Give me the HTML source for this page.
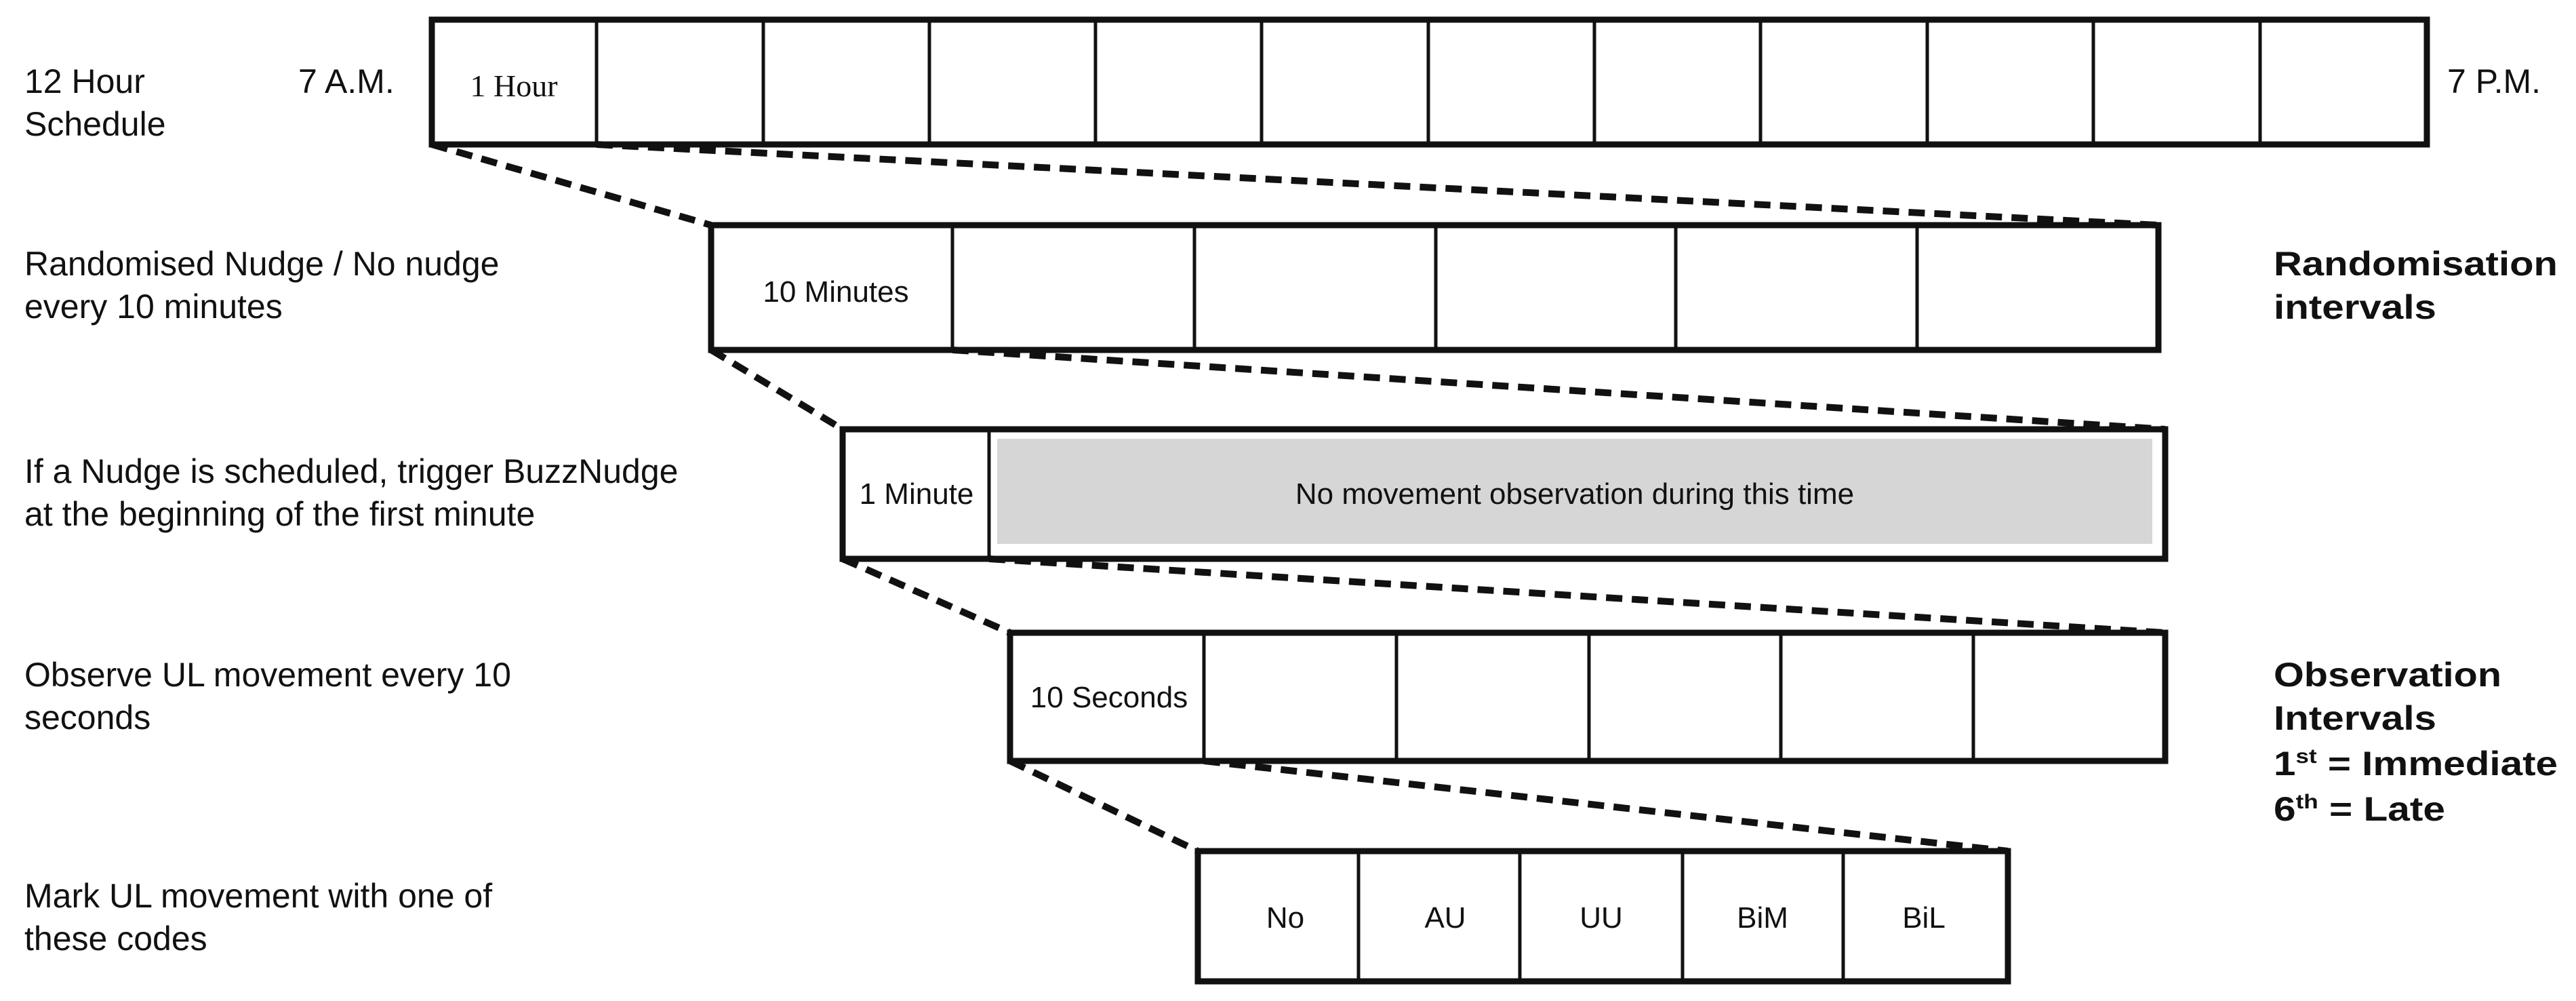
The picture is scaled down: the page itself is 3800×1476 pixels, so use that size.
<!DOCTYPE html>
<html><head><meta charset="utf-8"><style>
html,body{margin:0;padding:0;background:#fff;}
svg{display:block;}
text{font-family:"Liberation Sans",Arial,sans-serif;fill:#111;}
.b{font-weight:bold;}
</style></head><body>
<svg width="3800" height="1476" viewBox="0 0 3800 1476" xmlns="http://www.w3.org/2000/svg">
<g stroke="#111" stroke-width="10" stroke-dasharray="24 14" fill="none">
<line x1="637" y1="213" x2="1049" y2="332"/>
<line x1="880" y1="213" x2="3184" y2="332"/>
<line x1="1049" y1="516" x2="1243" y2="633"/>
<line x1="1405" y1="516" x2="3194" y2="633"/>
<line x1="1243" y1="824" x2="1490" y2="933"/>
<line x1="1459" y1="824" x2="3194" y2="933"/>
<line x1="1490" y1="1122" x2="1767" y2="1255"/>
<line x1="1776" y1="1122" x2="2962" y2="1255"/>
</g>
<rect x="1471" y="647" width="1704" height="155" fill="#d6d6d6"/>
<g stroke="#111" fill="none">
<rect x="637" y="29" width="2943" height="184" stroke-width="9"/>
<g stroke-width="5">
<line x1="880" y1="29" x2="880" y2="213"/><line x1="1126" y1="29" x2="1126" y2="213"/><line x1="1371" y1="29" x2="1371" y2="213"/><line x1="1616" y1="29" x2="1616" y2="213"/><line x1="1861" y1="29" x2="1861" y2="213"/><line x1="2107" y1="29" x2="2107" y2="213"/><line x1="2352" y1="29" x2="2352" y2="213"/><line x1="2597" y1="29" x2="2597" y2="213"/><line x1="2843" y1="29" x2="2843" y2="213"/><line x1="3088" y1="29" x2="3088" y2="213"/><line x1="3334" y1="29" x2="3334" y2="213"/>
</g>
<rect x="1049" y="332" width="2135" height="184" stroke-width="9"/>
<g stroke-width="5">
<line x1="1405" y1="332" x2="1405" y2="516"/><line x1="1762" y1="332" x2="1762" y2="516"/><line x1="2118" y1="332" x2="2118" y2="516"/><line x1="2472" y1="332" x2="2472" y2="516"/><line x1="2828" y1="332" x2="2828" y2="516"/>
</g>
<rect x="1243" y="633" width="1951" height="191" stroke-width="9"/>
<line x1="1459" y1="633" x2="1459" y2="824" stroke-width="5"/>
<rect x="1490" y="933" width="1704" height="189" stroke-width="9"/>
<g stroke-width="5">
<line x1="1776" y1="933" x2="1776" y2="1122"/><line x1="2060" y1="933" x2="2060" y2="1122"/><line x1="2344" y1="933" x2="2344" y2="1122"/><line x1="2627" y1="933" x2="2627" y2="1122"/><line x1="2911" y1="933" x2="2911" y2="1122"/>
</g>
<rect x="1767" y="1255" width="1195" height="192" stroke-width="9"/>
<g stroke-width="5">
<line x1="2004" y1="1255" x2="2004" y2="1447"/><line x1="2242" y1="1255" x2="2242" y2="1447"/><line x1="2482" y1="1255" x2="2482" y2="1447"/><line x1="2719" y1="1255" x2="2719" y2="1447"/>
</g>
</g>
<g font-size="50">
<text x="36" y="137">12 Hour</text>
<text x="36" y="200">Schedule</text>
<text x="440" y="137">7 A.M.</text>
<text x="3610" y="137">7 P.M.</text>
<text x="36" y="406">Randomised Nudge / No nudge</text>
<text x="36" y="469">every 10 minutes</text>
<text x="36" y="712">If a Nudge is scheduled, trigger BuzzNudge</text>
<text x="36" y="775">at the beginning of the first minute</text>
<text x="36" y="1012">Observe UL movement every 10</text>
<text x="36" y="1075">seconds</text>
<text x="36" y="1338">Mark UL movement with one of</text>
<text x="36" y="1401">these codes</text>
</g>
<text x="758" y="142" font-size="46" text-anchor="middle" style="font-family:'Liberation Serif',serif">1 Hour</text>
<g font-size="44" text-anchor="middle">
<text x="1233" y="445">10 Minutes</text>
<text x="1352" y="743">1 Minute</text>
<text x="2323" y="743">No movement observation during this time</text>
<text x="1636" y="1043">10 Seconds</text>
<text x="1896" y="1368">No</text>
<text x="2132" y="1368">AU</text>
<text x="2362" y="1368">UU</text>
<text x="2600" y="1368">BiM</text>
<text x="2838" y="1368">BiL</text>
</g>
<g font-size="50" class="b">
<text x="3354" y="406" class="b" textLength="419" lengthAdjust="spacingAndGlyphs">Randomisation</text>
<text x="3354" y="470" class="b" textLength="240" lengthAdjust="spacingAndGlyphs">intervals</text>
<text x="3354" y="1012" class="b" textLength="336" lengthAdjust="spacingAndGlyphs">Observation</text>
<text x="3354" y="1076" class="b" textLength="240" lengthAdjust="spacingAndGlyphs">Intervals</text>
<text x="3354" y="1143" class="b" textLength="419" lengthAdjust="spacingAndGlyphs">1<tspan font-size="30" dy="-18">st</tspan><tspan dy="18"> = Immediate</tspan></text>
<text x="3354" y="1210" class="b" textLength="253" lengthAdjust="spacingAndGlyphs">6<tspan font-size="30" dy="-18">th</tspan><tspan dy="18"> = Late</tspan></text>
</g>
</svg>
</body></html>
